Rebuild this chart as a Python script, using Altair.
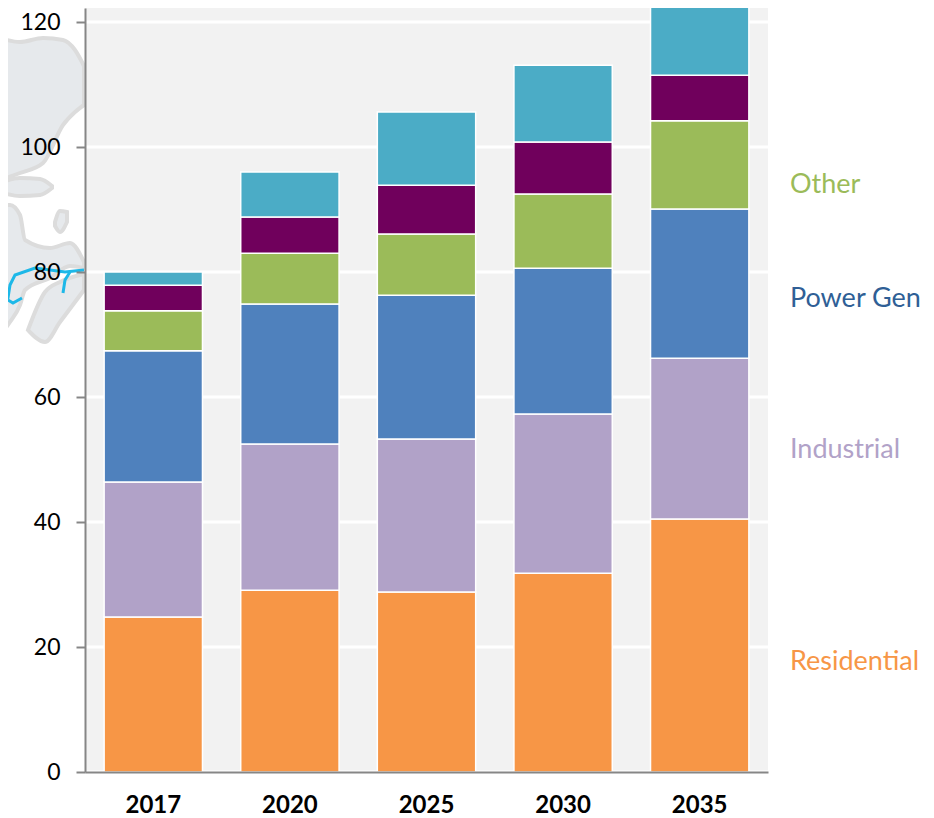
import altair as alt
import pandas as pd

years = ["2017", "2020", "2025", "2030", "2035"]
series = ["Residential", "Industrial", "Power Gen", "Other", "Series 5", "Series 6"]
colors = ["#f79646", "#b1a2c8", "#4f81bd", "#9bbb59", "#70005c", "#4bacc6"]
residential = [24.8, 29.1, 28.8, 31.8, 40.5]
industrial = [21.6, 23.4, 24.5, 25.5, 25.7]
power_gen = [21.0, 22.4, 23.0, 23.3, 23.9]
other = [6.4, 8.1, 9.8, 11.9, 14.1]
series_5 = [4.1, 5.8, 7.8, 8.3, 7.3]
series_6 = [2.1, 7.2, 11.7, 12.3, 13.0]
all_values = [residential, industrial, power_gen, other, series_5, series_6]
grid_values = [0, 20, 40, 60, 80, 100, 120]

legend_names = ["Residential", "Industrial", "Power Gen", "Other"]
legend_colors = ["#f79646", "#b1a2c8", "#2f5f96", "#9bbb59"]
legend_at = [17.6, 51.5, 75.7, 93.9]

# background map fragment: [x, top, bottom] in picture units
map_north = [[0, 38, 180], [20, 42, 173], [43, 38, 163], [63, 40, 125], [75, 50, 112], [84, 66, 105]]
map_west = [[0, 205, 335], [10, 205, 322], [20, 215, 305], [25, 240, 290], [50, 248, 278], [70, 243, 266], [84, 262, 268]]
map_south = [[28, 330, 330], [45, 292, 342], [60, 282, 322], [84, 274, 290]]
map_lake = [[0, 183, 192], [20, 178, 196], [40, 179, 195], [52, 186, 188]]
map_isle = [[55, 222, 226], [60, 211, 232], [67, 212, 222]]
pipe_main = [[0, 310], [8, 298], [10, 285], [15, 275], [35, 268], [65, 272], [84, 270]]
pipe_a = [[8, 300], [13, 303], [22, 298]]
pipe_b = [[70, 272], [65, 280], [63, 293]]

rows = [
    {"year": y, "series": s, "order": i, "value": vals[j]}
    for i, (s, vals) in enumerate(zip(series, all_values))
    for j, y in enumerate(years)
]
bars_df = pd.DataFrame(rows)

map_rows = [
    {"shape": n, "x": p[0], "top": p[1], "bottom": p[2]}
    for n, shape in enumerate([map_north, map_west, map_south, map_lake, map_isle])
    for p in shape
]
pipe_rows = [
    {"line": n, "i": i, "x": p[0], "y": p[1]}
    for n, pipe in enumerate([pipe_main, pipe_a, pipe_b])
    for i, p in enumerate(pipe)
]

FONT = "Lato"
GRAY = "#868686"
W, H = 683, 764
y_scale = alt.Scale(domain=[0, 122.24], nice=False, zero=False)
map_x = alt.Scale(domain=[85, 768], nice=False, zero=False)
map_y = alt.Scale(domain=[772, 8], nice=False, zero=False)

land = alt.Chart(pd.DataFrame(map_rows)).mark_area(
    fill="#e6e9ec", stroke="#dcdcdc", strokeWidth=4, interpolate="monotone"
).encode(
    x=alt.X("x:Q", scale=map_x, axis=None),
    y=alt.Y("top:Q", scale=map_y, axis=None),
    y2="bottom:Q",
    detail="shape:N",
)

pipes = alt.Chart(pd.DataFrame(pipe_rows)).mark_line(
    color="#1db8e8", strokeWidth=3
).encode(
    x=alt.X("x:Q", scale=map_x, axis=None),
    y=alt.Y("y:Q", scale=map_y, axis=None),
    detail="line:N",
    order="i:Q",
)

grid = alt.Chart(pd.DataFrame({"v": grid_values})).mark_rule(
    color="white", strokeWidth=3
).encode(
    y=alt.Y("v:Q", scale=y_scale, axis=None),
    x=alt.value(0),
    x2=alt.value(W),
)

bars = alt.Chart(bars_df).mark_bar(
    stroke="white", strokeWidth=1.5, clip=True
).encode(
    x=alt.X(
        "year:N",
        sort=years,
        scale=alt.Scale(paddingInner=0.28, paddingOuter=0.14),
        axis=alt.Axis(
            title=None, ticks=False, labelAngle=0, labelFont=FONT, labelFontSize=24,
            labelFontWeight="bold", labelColor="#000000", labelPadding=21,
            domainColor=GRAY, domainWidth=2, zindex=1,
        ),
    ),
    y=alt.Y(
        "value:Q",
        stack="zero",
        scale=y_scale,
        axis=alt.Axis(
            title=None, values=grid_values, grid=False,
            domainColor=GRAY, domainWidth=2,
            tickColor=GRAY, tickWidth=2, tickSize=9, labelFont=FONT, labelFontSize=23,
            labelColor="#000000", labelPadding=16, zindex=1,
        ),
    ),
    color=alt.Color("series:N", scale=alt.Scale(domain=series, range=colors), legend=None),
    order=alt.Order("order:Q"),
)

labels = alt.Chart(
    pd.DataFrame({"name": legend_names, "at": legend_at})
).mark_text(align="left", baseline="middle", font=FONT, fontSize=27).encode(
    x=alt.value(705),
    y=alt.Y("at:Q", scale=y_scale, axis=None),
    text="name:N",
    color=alt.Color(
        "name:N", scale=alt.Scale(domain=legend_names, range=legend_colors), legend=None
    ),
)

chart = (
    alt.layer(land, pipes, grid, bars, labels)
    .resolve_scale(x="independent", y="independent", color="independent")
    .properties(
        width=W,
        height=H,
        autosize=alt.AutoSizeParams(type="none"),
        padding={"left": 77, "right": 157, "top": 0, "bottom": 45},
    )
    .configure_view(fill="#f2f2f2", stroke=None)
)

chart.save("out.html", embed_options={"renderer": "svg", "actions": False})
